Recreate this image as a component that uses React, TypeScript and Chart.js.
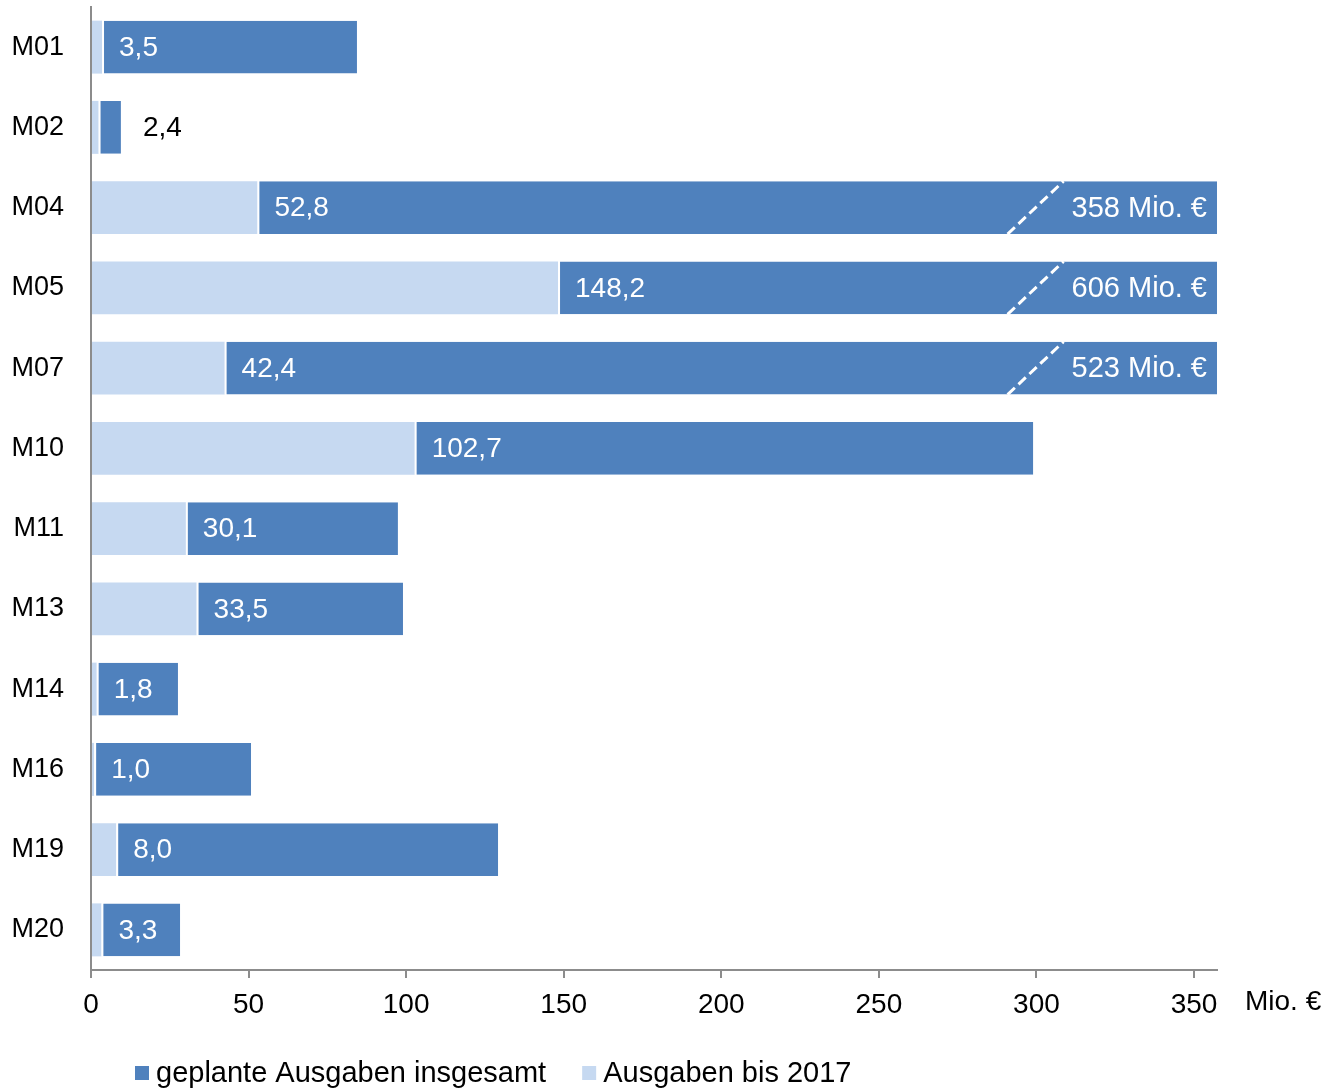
import React, { useEffect, useRef } from "react";
import { Chart, registerables } from "chart.js";

Chart.register(...registerables);

const categories = ["M01", "M02", "M04", "M05", "M07", "M10", "M11", "M13", "M14", "M16", "M19", "M20"];
const spentTo2017 = [3.5, 2.4, 52.8, 148.2, 42.4, 102.7, 30.1, 33.5, 1.8, 1.0, 8.0, 3.3];
const plannedTotal = [84.4, 9.5, 358, 606, 523, 299, 97.4, 99, 27.6, 50.8, 129.2, 28.3];
const xTicks = [0, 50, 100, 150, 200, 250, 300, 350];
const xMax = 357.3;
const legendLabels = ["geplante Ausgaben insgesamt", "Ausgaben bis 2017"];
const unitLabel = "Mio. €";

const DARK = "#4F81BD";
const LIGHT = "#C6D9F1";
const AXIS = "#8C8C8C";
const FONT = '"Liberation Sans", Arial, sans-serif';

const fmt = (v: number) => v.toFixed(1).replace(".", ",");

const overlayPlugin = {
  id: "overlay",
  afterDatasetsDraw(chart: any) {
    const ctx = chart.ctx as CanvasRenderingContext2D;
    const xs = chart.scales.x;
    const area = chart.chartArea;
    const meta = chart.getDatasetMeta(0);
    ctx.save();
    ctx.textBaseline = "middle";
    categories.forEach((_, i) => {
      const el = meta.data[i];
      const y = el.y;
      const h = el.height;
      const x0 = xs.getPixelForValue(spentTo2017[i]);
      const xEnd = xs.getPixelForValue(Math.min(plannedTotal[i], xMax));
      const label = fmt(spentTo2017[i]);
      ctx.font = `28px ${FONT}`;
      if (xEnd - x0 > 60) {
        ctx.fillStyle = "#ffffff";
        ctx.textAlign = "left";
        ctx.fillText(label, x0 + 17, y + 1);
      } else {
        ctx.fillStyle = "#000000";
        ctx.textAlign = "left";
        ctx.fillText(label, xEnd + 22, y + 1);
      }
      if (plannedTotal[i] > xMax) {
        const t = `${plannedTotal[i]} ${unitLabel}`;
        ctx.font = `29px ${FONT}`;
        ctx.fillStyle = "#ffffff";
        ctx.textAlign = "right";
        const tx = area.right - 10;
        ctx.fillText(t, tx, y + 1);
        const tw = ctx.measureText(t).width;
        const topX = tx - tw - 8;
        const botX = topX - 56;
        ctx.save();
        ctx.strokeStyle = "#ffffff";
        ctx.lineWidth = 3;
        ctx.setLineDash([10, 5]);
        ctx.beginPath();
        ctx.moveTo(botX, y + h / 2);
        ctx.lineTo(topX, y - h / 2);
        ctx.stroke();
        ctx.restore();
      }
    });
    // axis unit
    ctx.fillStyle = "#000000";
    ctx.textAlign = "left";
    ctx.font = `28px ${FONT}`;
    ctx.fillText(unitLabel, area.right + 28, area.bottom + 32);
    // legend
    ctx.font = `29px ${FONT}`;
    let lx = 135;
    const ly = 1073;
    [DARK, LIGHT].forEach((c, k) => {
      ctx.fillStyle = c;
      ctx.fillRect(lx, ly - 7, 14, 14);
      ctx.fillStyle = "#000000";
      ctx.fillText(legendLabels[k], lx + 21, ly + 1);
      lx = lx + 21 + ctx.measureText(legendLabels[k]).width + 36;
    });
    ctx.restore();
  },
};

export default function App() {
  const ref = useRef<HTMLCanvasElement | null>(null);
  useEffect(() => {
    document.body.style.margin = "0";
    if (!ref.current) return;
    const chart = new Chart(ref.current, {
      type: "bar",
      data: {
        labels: categories,
        datasets: [
          {
            label: legendLabels[0],
            data: categories.map((_, i) => [spentTo2017[i], plannedTotal[i]]) as any,
            backgroundColor: DARK,
            borderColor: "#ffffff",
            borderWidth: { left: 2, right: 0, top: 0, bottom: 0 } as any,
            borderSkipped: false as any,
            grouped: false,
            barPercentage: 0.66,
            categoryPercentage: 1,
          },
          {
            label: legendLabels[1],
            data: spentTo2017.map((v) => [0, v]) as any,
            backgroundColor: LIGHT,
            borderWidth: 0,
            grouped: false,
            barPercentage: 0.66,
            categoryPercentage: 1,
          },
        ],
      },
      options: {
        indexAxis: "y",
        responsive: false,
        animation: false,
        devicePixelRatio: 1,
        layout: { padding: { top: 7, right: 122, bottom: 0, left: 0 } },
        plugins: { legend: { display: false }, tooltip: { enabled: false } },
        scales: {
          x: {
            min: 0,
            max: xMax,
            afterBuildTicks: (scale: any) => {
              scale.ticks = xTicks.map((v) => ({ value: v }));
            },
            afterFit: (scale: any) => {
              scale.height = 122;
              scale.paddingLeft = 0;
              scale.paddingRight = 0;
            },
            grid: {
              display: true,
              drawOnChartArea: false,
              drawTicks: true,
              tickLength: 8,
              color: AXIS,
              lineWidth: 2,
            },
            border: { display: true, color: AXIS, width: 2 },
            ticks: {
              color: "#000000",
              font: { family: FONT, size: 28 },
              padding: 10,
              maxRotation: 0,
              autoSkip: false,
            },
          },
          y: {
            afterFit: (scale: any) => {
              scale.width = 91;
              scale.paddingTop = 0;
              scale.paddingBottom = 0;
            },
            grid: { display: false, drawTicks: false },
            border: { display: true, color: AXIS, width: 2 },
            ticks: {
              color: "#000000",
              font: { family: FONT, size: 27 },
              padding: 27,
            },
          },
        },
      },
      plugins: [overlayPlugin],
    });
    return () => chart.destroy();
  }, []);
  return <canvas ref={ref} width={1339} height={1092} style={{ display: "block" }} />;
}
